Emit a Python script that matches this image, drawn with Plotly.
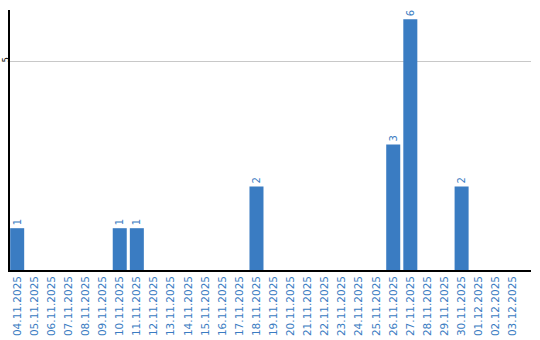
import plotly.graph_objects as go

dates = ["04.11.2025", "05.11.2025", "06.11.2025", "07.11.2025", "08.11.2025",
         "09.11.2025", "10.11.2025", "11.11.2025", "12.11.2025", "13.11.2025",
         "14.11.2025", "15.11.2025", "16.11.2025", "17.11.2025", "18.11.2025",
         "19.11.2025", "20.11.2025", "21.11.2025", "22.11.2025", "23.11.2025",
         "24.11.2025", "25.11.2025", "26.11.2025", "27.11.2025", "28.11.2025",
         "29.11.2025", "30.11.2025", "01.12.2025", "02.12.2025", "03.12.2025"]
counts = [1, 0, 0, 0, 0, 0, 1, 1, 0, 0,
          0, 0, 0, 0, 2, 0, 0, 0, 0, 0,
          0, 0, 3, 6, 0, 0, 2, 0, 0, 0]

blue = "#3a7cc2"
labels = [str(v) if v else "" for v in counts]

fig = go.Figure(go.Bar(
    x=dates, y=counts, marker_color=blue, marker_line_width=0,
    text=labels, textposition="outside", textangle=-90,
    textfont=dict(color=blue, size=10, family="DejaVu Sans"),
    cliponaxis=False,
))
fig.update_layout(
    width=540, height=340,
    margin=dict(l=10, r=9, t=10, b=70),
    paper_bgcolor="white", plot_bgcolor="white",
    bargap=0.18, showlegend=False,
    font=dict(family="DejaVu Sans"),
    xaxis=dict(type="category", range=[-0.42, 30.06], tickangle=-90,
               tickfont=dict(color=blue, size=10.5), showline=True,
               linecolor="black", linewidth=1.5, showgrid=False, ticks="",
               automargin=False),
    yaxis=dict(range=[0, 6.22], tickvals=[5], ticktext=["5"], tickangle=-90,
               tickfont=dict(color="black", size=8), showline=True,
               linecolor="black", linewidth=1.5, showgrid=True,
               gridcolor="#c8c8c8", zeroline=False, ticks="", ticklen=0,
               ticklabelstandoff=-4, automargin=False),
)
fig.write_html("out.html")
